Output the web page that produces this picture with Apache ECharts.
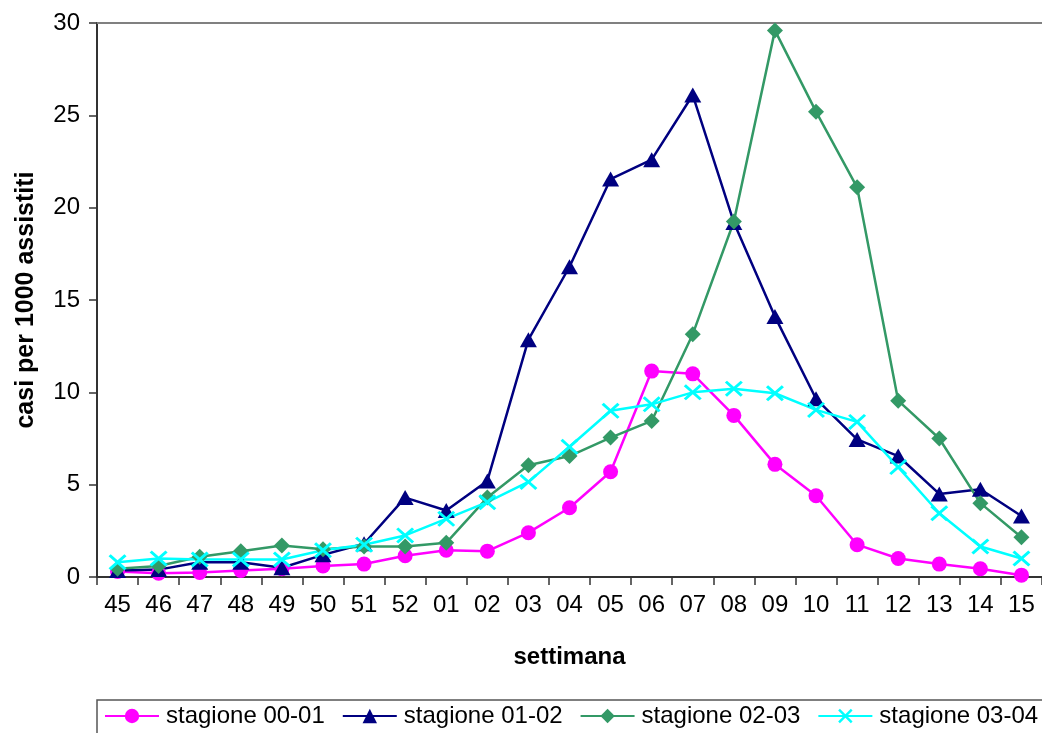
<!DOCTYPE html>
<html>
<head>
<meta charset="utf-8">
<script src="https://cdn.jsdelivr.net/npm/echarts@6/dist/echarts.min.js"></script>
<style>html,body{margin:0;padding:0;background:#fff}#c{width:1042px;height:733px}</style>
</head>
<body>
<div id="c"></div>
<script>
var weeks = ['45','46','47','48','49','50','51','52','01','02','03','04','05','06','07','08','09','10','11','12','13','14','15'];
var s0001 = [0.3,0.2,0.25,0.35,0.45,0.6,0.7,1.15,1.45,1.4,2.4,3.75,5.7,11.15,11.0,8.75,6.1,4.4,1.75,1.0,0.7,0.45,0.1];
var s0102 = [0.35,0.4,0.8,0.8,0.5,1.2,1.8,4.3,3.6,5.2,12.85,16.8,21.55,22.6,26.1,19.2,14.1,9.65,7.45,6.55,4.5,4.75,3.3];
var s0203 = [0.45,0.6,1.1,1.4,1.7,1.5,1.65,1.65,1.85,4.3,6.05,6.55,7.55,8.45,13.15,19.25,29.6,25.2,21.1,9.55,7.5,4.0,2.15];
var s0304 = [0.8,1.0,0.95,0.95,0.95,1.45,1.75,2.25,3.15,4.05,5.15,7.05,9.0,9.35,10.0,10.2,9.95,9.05,8.4,5.95,3.45,1.65,1.0];
var seriesNames = ['stagione 00-01','stagione 01-02','stagione 02-03','stagione 03-04'];
var yTicks = [0,5,10,15,20,25,30];

var t = 12;
var xPath = 'path://M' + t + ',0L50,' + (50 - t) + 'L' + (100 - t) + ',0L100,' + t + 'L' + (50 + t) + ',50L100,' + (100 - t) +
  'L' + (100 - t) + ',100L50,' + (50 + t) + 'L' + t + ',100L0,' + (100 - t) + 'L' + (50 - t) + ',50L0,' + t + 'Z';

var font = '"Liberation Sans", Arial, sans-serif';
var chart = echarts.init(document.getElementById('c'), null, {renderer: 'canvas'});

function mk(name, data, color, symbol, size, width) {
  return {
    name: name, type: 'line', data: data, xAxisIndex: 0, yAxisIndex: 0,
    symbol: symbol, symbolSize: size, showAllSymbol: true,
    lineStyle: {color: color, width: width},
    itemStyle: {color: color, borderWidth: 0},
    emphasis: {disabled: true}, animation: false
  };
}

chart.setOption({
  animation: false,
  backgroundColor: '#ffffff',
  textStyle: {fontFamily: font},
  grid: {left: 97, right: 0, top: 23, bottom: 156, containLabel: false},
  legend: {
    data: seriesNames,
    left: 97, top: 700, width: 1000,
    itemWidth: 54, itemHeight: 18, itemGap: 17,
    padding: [4, 7, 12, 7],
    borderColor: '#555', borderWidth: 1.5,
    textStyle: {fontFamily: font, fontSize: 24, color: '#000', padding: [0, 0, 0, 2]}
  },
  xAxis: [{
    type: 'category', data: weeks, boundaryGap: true, position: 'bottom',
    name: 'settimana', nameLocation: 'middle', nameGap: 68,
    nameTextStyle: {fontFamily: font, fontSize: 24, fontWeight: 'bold', color: '#000'},
    axisLine: {lineStyle: {color: '#333', width: 2}},
    axisTick: {show: true, length: 8, alignWithLabel: false, lineStyle: {color: '#333', width: 1.5}},
    axisLabel: {fontFamily: font, fontSize: 24, color: '#000', margin: 16, interval: 0},
    splitLine: {show: false}
  }, {
    type: 'category', data: weeks, position: 'top',
    axisLine: {lineStyle: {color: '#808080', width: 2}},
    axisTick: {show: false}, axisLabel: {show: false}, splitLine: {show: false}
  }],
  yAxis: {
    type: 'value', min: 0, max: 30, interval: 5,
    name: 'casi per 1000 assistiti', nameLocation: 'middle', nameGap: 58,
    nameTextStyle: {fontFamily: font, fontSize: 25, fontWeight: 'bold', color: '#000'},
    axisLine: {show: true, lineStyle: {color: '#333', width: 2}},
    axisTick: {show: true, length: 8, lineStyle: {color: '#333', width: 1.5}},
    axisLabel: {fontFamily: font, fontSize: 24, color: '#000', margin: 17,
      formatter: function (v) { return yTicks.indexOf(v) >= 0 ? String(v) : ''; }},
    splitLine: {show: false}
  },
  series: [
    mk(seriesNames[0], s0001, '#FF00FF', 'circle', 15, 2.5),
    mk(seriesNames[1], s0102, '#000080', 'triangle', [17, 15], 2.5),
    mk(seriesNames[2], s0203, '#339966', 'diamond', [16, 16], 2.5),
    mk(seriesNames[3], s0304, '#00FFFF', xPath, [18, 16], 2.5)
  ]
});
</script>
</body>
</html>
